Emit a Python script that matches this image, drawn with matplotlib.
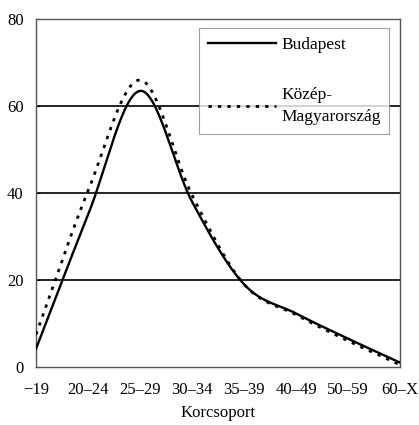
import numpy as np
import matplotlib
matplotlib.use('Agg')
from matplotlib import pyplot as plt

plt.rcParams['font.family'] = ['Liberation Serif', 'DejaVu Serif']

age_groups = ['\u221219', '20\u201324', '25\u201329', '30\u201334', '35\u201339',
              '40\u201349', '50\u201359', '60\u2013X']
budapest = [4.2, 35.0, 63.5, 38.0, 19.0, 12.3, 6.5, 1.0]
kozep = [7.5, 40.5, 66.0, 39.5, 19.0, 12.0, 6.0, 0.5]
y_ticks = [0, 20, 40, 60, 80]


def smooth(values, steps=30):
    # Catmull-Rom görbe a pontokon keresztül
    p = np.asarray(values, dtype=float)
    x = np.arange(len(p), dtype=float)
    pts = np.column_stack([x, p])
    pts = np.vstack([2 * pts[0] - pts[1], pts, 2 * pts[-1] - pts[-2]])
    out = []
    for i in range(1, len(pts) - 2):
        p0, p1, p2, p3 = pts[i - 1], pts[i], pts[i + 1], pts[i + 2]
        for t in np.linspace(0, 1, steps, endpoint=False):
            t2, t3 = t * t, t * t * t
            out.append(0.5 * ((2 * p1) + (-p0 + p2) * t +
                              (2 * p0 - 5 * p1 + 4 * p2 - p3) * t2 +
                              (-p0 + 3 * p1 - 3 * p2 + p3) * t3))
    out.append(pts[-2])
    out = np.array(out)
    return out[:, 0], out[:, 1]


fig = plt.figure(figsize=(4.19, 4.25), dpi=100)
ax = fig.add_axes([0.086, 0.1365, 0.869, 0.8185])

for v in [20, 40, 60]:
    ax.axhline(v, color='black', linewidth=1.2, zorder=1)

bx, by = smooth(budapest)
kx, ky = smooth(kozep)
ax.plot(bx, by, color='black', linewidth=1.7, label='Budapest', zorder=3)
ax.plot(kx, ky, color='black', linewidth=2.0, linestyle=(0, (1.2, 2.2)),
        label='K\u00f6z\u00e9p-\nMagyarorsz\u00e1g', zorder=3)

ax.set_xlim(0, len(age_groups) - 1)
ax.set_ylim(0, 80)
ax.set_xticks(range(len(age_groups)))
ax.set_xticklabels(age_groups)
ax.set_yticks(y_ticks)
ax.tick_params(axis='both', labelsize=12, length=3, direction='in', pad=9)
ax.tick_params(axis='x', length=0, pad=11)
for s in ax.spines.values():
    s.set_color('#555555')
    s.set_linewidth(1.0)
ax.set_xlabel('Korcsoport', fontsize=12, labelpad=5)

leg = ax.legend(loc='upper right', bbox_to_anchor=(0.97, 0.975), fontsize=12.5,
                frameon=True, fancybox=False, handlelength=3.9, handletextpad=0.3,
                labelspacing=2.0, borderpad=0.5, borderaxespad=0)
for t in leg.get_texts():
    t.set_linespacing(1.5)
leg.get_frame().set_edgecolor('#888888')
leg.get_frame().set_linewidth(0.8)

plt.savefig('out.png', dpi=100)
